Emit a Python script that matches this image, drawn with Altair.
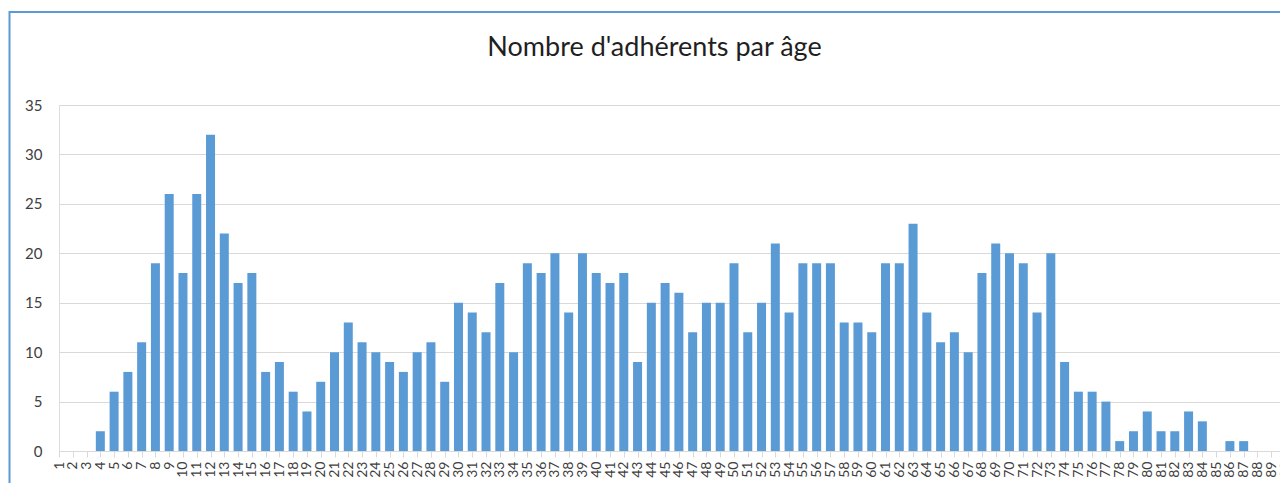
import altair as alt
import pandas as pd

ages = [1, 2, 3, 4, 5, 6, 7, 8, 9, 10,
        11, 12, 13, 14, 15, 16, 17, 18, 19, 20,
        21, 22, 23, 24, 25, 26, 27, 28, 29, 30,
        31, 32, 33, 34, 35, 36, 37, 38, 39, 40,
        41, 42, 43, 44, 45, 46, 47, 48, 49, 50,
        51, 52, 53, 54, 55, 56, 57, 58, 59, 60,
        61, 62, 63, 64, 65, 66, 67, 68, 69, 70,
        71, 72, 73, 74, 75, 76, 77, 78, 79, 80,
        81, 82, 83, 84, 85, 86, 87, 88, 89, 90]

counts = [0, 0, 0, 2, 6, 8, 11, 19, 26, 18,
          26, 32, 22, 17, 18, 8, 9, 6, 4, 7,
          10, 13, 11, 10, 9, 8, 10, 11, 7, 15,
          14, 12, 17, 10, 19, 18, 20, 14, 20, 18,
          17, 18, 9, 15, 17, 16, 12, 15, 15, 19,
          12, 15, 21, 14, 19, 19, 19, 13, 13, 12,
          19, 19, 23, 14, 11, 12, 10, 18, 21, 20,
          19, 14, 20, 9, 6, 6, 5, 1, 2, 4,
          2, 2, 4, 3, 0, 1, 1, 0, 0, 0]

y_ticks = [0, 5, 10, 15, 20, 25, 30, 35]

title_text = "Nombre d'adhérents par âge"

df = pd.DataFrame({"age": ages, "n": counts})

FONT = "Lato"
BLUE = "#5B9BD5"
GRID = "#D9D9D9"
TXT = "#404040"

bars = alt.Chart(df).mark_bar(size=9, color=BLUE).encode(
    x=alt.X(
        "age:O",
        sort=ages,
        scale=alt.Scale(type="point", padding=0, range=[0, 1226]),
        axis=alt.Axis(
            title=None,
            values=ages,
            labelAngle=-90,
            labelFontSize=14,
            labelFont=FONT,
            labelColor=TXT,
            labelOverlap=False,
            labelPadding=4,
            ticks=True,
            tickColor=GRID,
            tickSize=6,
            domainColor=GRID,
            domainWidth=1,
            grid=False,
        ),
    ),
    y=alt.Y(
        "n:Q",
        scale=alt.Scale(domain=[0, 35], nice=False),
        axis=alt.Axis(
            title=None,
            values=y_ticks,
            labelFontSize=15,
            labelFont=FONT,
            labelColor=TXT,
            labelPadding=17,
            ticks=False,
            domain=False,
            grid=True,
            gridColor=GRID,
            gridWidth=1,
        ),
    ),
)

frame_df = pd.DataFrame({"k": [0]})
top_border = alt.Chart(frame_df).mark_rule(color=BLUE, strokeWidth=2).encode(
    x=alt.value(-50), x2=alt.value(1300), y=alt.value(-93)
)
left_border = alt.Chart(frame_df).mark_rule(color=BLUE, strokeWidth=2).encode(
    x=alt.value(-49.5), y=alt.value(-94), y2=alt.value(500)
)

chart = alt.layer(bars, top_border, left_border).properties(
    width=1221,
    height=346,
    autosize="none",
    padding={"left": 51, "top": 97, "right": 0, "bottom": 40},
    title=alt.TitleParams(
        title_text,
        font=FONT,
        fontSize=27,
        fontWeight="normal",
        color="#1F1F1F",
        anchor="middle",
        offset=-52,
        dx=-15,
    ),
).configure_view(stroke=None).configure(font=FONT)

chart.save("out.html", embed_options={"renderer": "svg", "actions": False})
